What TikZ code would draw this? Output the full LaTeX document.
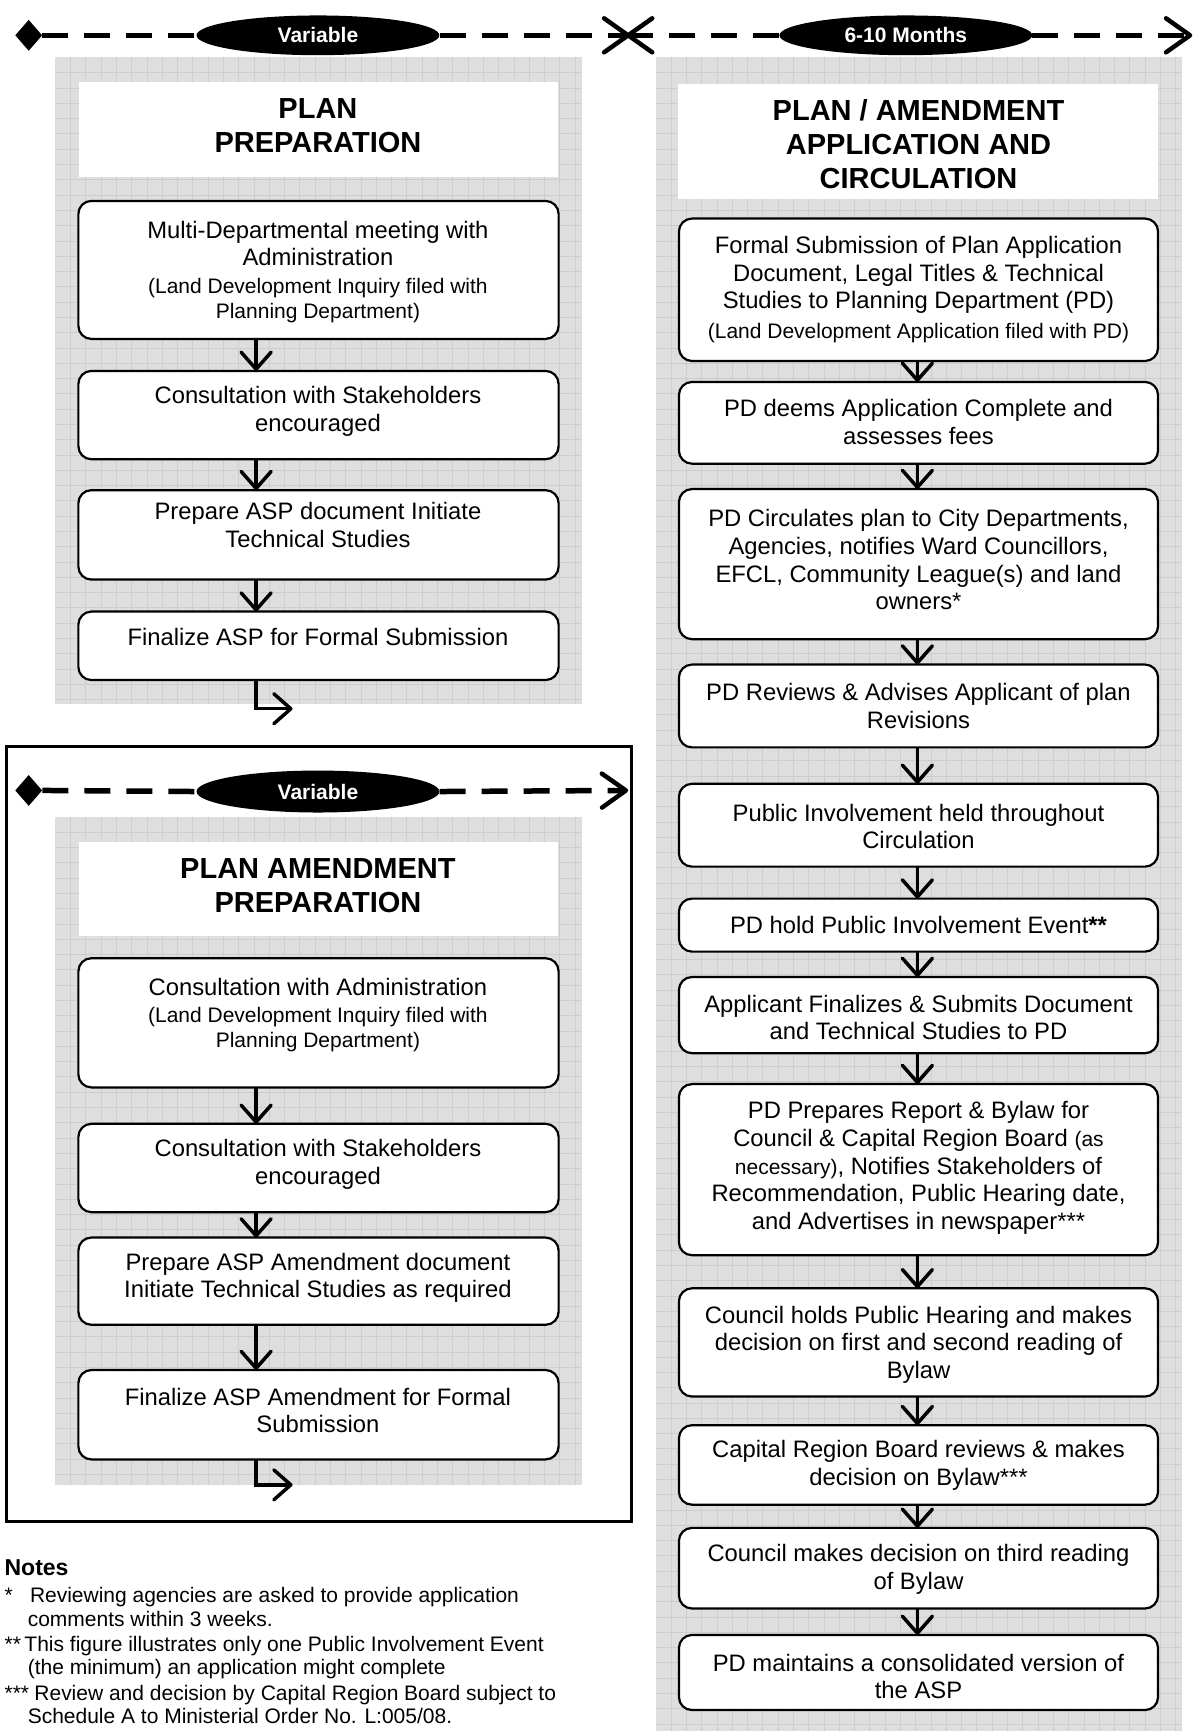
\documentclass[tikz,border=0pt]{standalone}
\usepackage{fontspec}
\setmainfont{Liberation Sans}
\usetikzlibrary{arrows.meta,shapes.geometric}
\definecolor{panelgray}{RGB}{222,222,222}
\definecolor{gridgray}{RGB}{205,205,205}
\tikzset{
  gridln/.style={draw=gridgray, line width=0.75pt},
  fbox/.style={draw=black, line width=2.2pt, fill=white, rounded corners=13pt, inner sep=0pt, outer sep=0pt},
  titlebox/.style={fill=white, inner sep=0pt, outer sep=0pt},
  bodytxt/.style={align=center, inner sep=0pt, font=\fontsize{23.8pt}{27.6pt}\selectfont},
  smalltxt/.style={align=center, inner sep=0pt, font=\fontsize{21pt}{25.4pt}\selectfont},
  ttltxt/.style={align=center, inner sep=0pt, font=\fontsize{29pt}{34pt}\selectfont\bfseries},
  pill/.style={ellipse, fill=black, text=white, inner sep=0pt, font=\fontsize{21pt}{24pt}\selectfont\bfseries},
  dia/.style={diamond, fill=black, inner sep=0pt, minimum width=27pt, minimum height=31pt},
  timeline/.style={line width=5.5pt, dash pattern=on 26pt off 16pt},
  tiparrow/.style={-{Straight Barb[length=24pt,width=34pt,line width=4.5pt,round]}},
  flow/.style={line width=3.5pt, -{Straight Barb[length=17pt,width=30pt,round]}},
  outerframe/.style={draw=black, line width=2.5pt},
  notetxt/.style={anchor=base west, inner sep=0pt, font=\fontsize{21pt}{23pt}\selectfont},
}
\newcommand\gpanel[4]{%
  \fill[panelgray] (#1,#2) rectangle (#3,#4);
  \pgfmathtruncatemacro\gpnx{(#3-#1)/13.85}%
  \pgfmathtruncatemacro\gpny{(#4-#2)/13.85}%
  \foreach \i in {1,...,\gpnx} \draw[gridln] ({#1+\i*13.85},#2) -- ({#1+\i*13.85},#4);
  \foreach \j in {1,...,\gpny} \draw[gridln] (#1,{#2+\j*13.85}) -- (#3,{#2+\j*13.85});
}
\newcommand\mkbox[6]{%
  \node[#6, minimum width={(#4-#2)*1.1043pt}, minimum height={(#5-#3)*1.1043pt}] (#1) at ({(#2+#4)/2},{(#3+#5)/2}) {};%
}
\begin{document}
\begin{tikzpicture}[x=1.1043pt, y=-1.1043pt]
\useasboundingbox (0,0) rectangle (1083,1568);
\fill[white] (0,0) rectangle (1083,1568);

% panels
\gpanel{50}{52}{527}{638}
\gpanel{594}{52}{1071}{1568}
\draw[outerframe] (6,676) rectangle (572,1378);
\gpanel{50}{740}{527}{1345}

\coordinate (lx) at (232,0);
\coordinate (rx) at (831,0);

% ---------- Plan preparation ----------
\mkbox{ttl1}{72}{74}{505}{160}{titlebox}
\node[ttltxt] (ttl1t) at (288,113.5) {PLAN\\PREPARATION};

\mkbox{b1}{71}{182}{506}{307}{fbox}
\node[bodytxt] (b1t) at (288,220.5) {Multi-Departmental meeting with\\Administration};
\node[smalltxt] (b1s) at (288,272.5) {(Land Development Inquiry filed with\\Planning Department)};
\mkbox{b2}{71}{336}{506}{416}{fbox}
\node[bodytxt] (b2t) at (288,372.5) {Consultation with Stakeholders\\encouraged};
\mkbox{b3}{71}{444}{506}{525}{fbox}
\node[bodytxt] (b3t) at (288,475.5) {Prepare ASP document Initiate\\Technical Studies};
\mkbox{b4}{71}{554}{506}{616}{fbox}
\node[bodytxt] (b4t) at (288,577) {Finalize ASP for Formal Submission};

\draw[flow] (b1.south -| lx) -- (b2.north -| lx);
\draw[flow] (b2.south -| lx) -- (b3.north -| lx);
\draw[flow] (b3.south -| lx) -- (b4.north -| lx);
\coordinate (l1end) at (265,642);
\draw[flow] (b4.south -| lx) |- (l1end);

% ---------- Plan amendment preparation ----------
\mkbox{ttl2}{72}{763}{505}{848}{titlebox}
\node[ttltxt] (ttl2t) at (288,802.5) {PLAN AMENDMENT\\PREPARATION};

\mkbox{a1}{71}{868}{506}{985}{fbox}
\node[bodytxt] (a1t) at (288,894) {Consultation with Administration};
\node[smalltxt] (a1s) at (288,932.5) {(Land Development Inquiry filed with\\Planning Department)};
\mkbox{a2}{71}{1018}{506}{1098}{fbox}
\node[bodytxt] (a2t) at (288,1054.5) {Consultation with Stakeholders\\encouraged};
\mkbox{a3}{71}{1121}{506}{1200}{fbox}
\node[bodytxt] (a3t) at (288,1157.5) {Prepare ASP Amendment document\\Initiate Technical Studies as required};
\mkbox{a4}{71}{1241}{506}{1322}{fbox}
\node[bodytxt] (a4t) at (288,1277.5) {Finalize ASP Amendment for Formal\\Submission};

\draw[flow] (a1.south -| lx) -- (a2.north -| lx);
\draw[flow] (a2.south -| lx) -- (a3.north -| lx);
\draw[flow] (a3.south -| lx) -- (a4.north -| lx);
\coordinate (l2end) at (265,1345);
\draw[flow] (a4.south -| lx) |- (l2end);

% ---------- Application and circulation ----------
\mkbox{ttl3}{614}{76}{1049}{180}{titlebox}
\node[ttltxt] (ttl3t) at (832,131) {PLAN / AMENDMENT\\APPLICATION AND\\CIRCULATION};

\mkbox{r1}{615}{198}{1049}{327}{fbox}
\node[bodytxt] (r1t) at (832,249) {Formal Submission of Plan Application\\Document, Legal Titles \& Technical\\Studies to Planning Department (PD)};
\node[smalltxt] (r1s) at (832,302) {(Land Development Application filed with PD)};
\mkbox{r2}{615}{346}{1049}{420}{fbox}
\node[bodytxt] (r2t) at (832,382.5) {PD deems Application Complete and\\assesses fees};
\mkbox{r3}{615}{443}{1049}{579}{fbox}
\node[bodytxt] (r3t) at (832,507) {PD Circulates plan to City Departments,\\Agencies, notifies Ward Councillors,\\EFCL, Community League(s) and land\\owners*};
\mkbox{r4}{615}{602}{1049}{677}{fbox}
\node[bodytxt] (r4t) at (832,639.5) {PD Reviews \& Advises Applicant of plan\\Revisions};
\mkbox{r5}{615}{710}{1049}{785}{fbox}
\node[bodytxt] (r5t) at (832,748.5) {Public Involvement held throughout\\Circulation};
\mkbox{r6}{615}{814}{1049}{862}{fbox}
\node[bodytxt] (r6t) at (832,838) {PD hold Public Involvement Event\textbf{**}};
\mkbox{r7}{615}{885}{1049}{954}{fbox}
\node[bodytxt] (r7t) at (832,921.5) {Applicant Finalizes \& Submits Document\\and Technical Studies to PD};
\mkbox{r8}{615}{982}{1049}{1137}{fbox}
\node[bodytxt] (r8t) at (832,1058) {PD Prepares Report \& Bylaw for\\Council \& Capital Region Board {\fontsize{21pt}{27.6pt}\selectfont (as}\\{\fontsize{21pt}{27.6pt}\selectfont necessary)}, Notifies Stakeholders of\\Recommendation, Public Hearing date,\\and Advertises in newspaper***};
\mkbox{r9}{615}{1167}{1049}{1265}{fbox}
\node[bodytxt] (r9t) at (832,1218) {Council holds Public Hearing and makes\\decision on first and second reading of\\Bylaw};
\mkbox{r10}{615}{1291}{1049}{1363}{fbox}
\node[bodytxt] (r10t) at (832,1327.5) {Capital Region Board reviews \& makes\\decision on Bylaw***};
\mkbox{r11}{615}{1384}{1049}{1457}{fbox}
\node[bodytxt] (r11t) at (832,1421.5) {Council makes decision on third reading\\of Bylaw};
\mkbox{r12}{615}{1481}{1049}{1549}{fbox}
\node[bodytxt] (r12t) at (832,1518.5) {PD maintains a consolidated version of\\the ASP};

\foreach \p/\q in {r1/r2,r2/r3,r3/r4,r4/r5,r5/r6,r6/r7,r7/r8,r8/r9,r9/r10,r10/r11,r11/r12}
  \draw[flow] (\p.south -| rx) -- (\q.north -| rx);

% ---------- timelines ----------
\node[dia] (d1) at (26,32) {};
\node[pill, minimum width={220*1.1043pt}, minimum height={36*1.1043pt}] (v1) at (288,32) {Variable};
\coordinate (t1end) at (571,32);
\draw[timeline] (d1.east) -- (v1.west);
\draw[timeline, tiparrow] (v1.east) -- (t1end);

\node[pill, minimum width={229*1.1043pt}, minimum height={36*1.1043pt}] (m1) at (820.5,32) {6-10 Months};
\coordinate (t2start) at (567,32);
\coordinate (t2end) at (1080,32);
\draw[timeline, tiparrow] (m1.west) -- (t2start);
\draw[timeline, tiparrow] (m1.east) -- (t2end);

\node[dia] (d2) at (26,716) {};
\node[pill, minimum width={220*1.1043pt}, minimum height={38*1.1043pt}] (v2) at (288,717) {Variable};
\coordinate (t3end) at (569,716);
\draw[timeline] (d2.east) -- (v2.west);
\draw[timeline, tiparrow] (v2.east) -- (t3end);

% ---------- notes ----------
\node[notetxt, font=\fontsize{23pt}{25pt}\selectfont\bfseries] (nh) at (4,1427.5) {Notes};
\node[notetxt] (n1m) at (4,1452) {*};
\node[notetxt] (n1a) at (27,1452) {Reviewing agencies are asked to provide application};
\node[notetxt] (n1b) at (25,1473) {comments within 3 weeks.};
\node[notetxt] (n2m) at (4,1496) {**};
\node[notetxt] (n2a) at (22,1496) {This figure illustrates only one Public Involvement Event};
\node[notetxt] (n2b) at (25,1517) {(the minimum) an application might complete};
\node[notetxt] (n3m) at (4,1540) {***};
\node[notetxt] (n3a) at (31,1540) {Review and decision by Capital Region Board subject to};
\node[notetxt] (n3b) at (25,1561) {Schedule A to Ministerial Order No. L:005/08.};
\end{tikzpicture}
\end{document}
